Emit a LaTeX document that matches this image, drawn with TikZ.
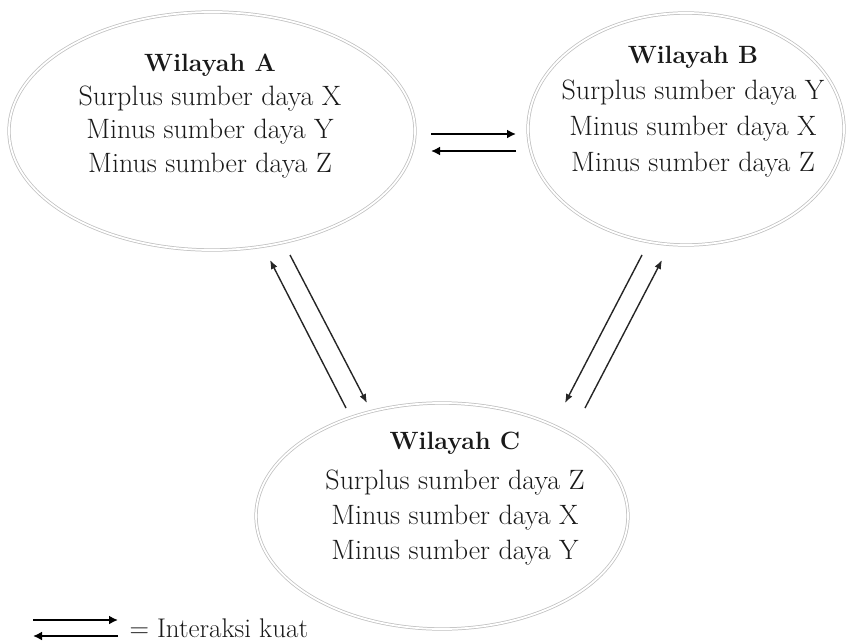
\documentclass[tikz,border=0pt]{standalone}
\usetikzlibrary{arrows.meta,shapes.geometric}
\begin{document}
\begin{tikzpicture}[x=1pt,y=-1pt,
  region/.style={ellipse, draw=gray!50, line width=0.75pt, double=white, double distance=1.8pt, inner sep=0pt},
  txt/.style={align=center, font=\fontsize{28}{33.5}\selectfont, text=black!90},
  harrow/.style={line width=2.6pt, -{Latex[length=9pt,width=9pt]}},
  darrow/.style={line width=1.4pt, black!85, -{Latex[length=9pt,width=7pt]}}
]
\newcommand{\hdtext}[1]{{\fontsize{25}{33.5}\selectfont\bfseries #1}}
\useasboundingbox (0,0) rectangle (846,642);
% regions
\node[region, minimum width=406pt, minimum height=238pt] (A) at (212,131) {};
\node[region, minimum width=316pt, minimum height=232pt] (B) at (686,129) {};
\node[region, minimum width=372pt, minimum height=226pt] (C) at (442,516) {};
% texts
\node[txt] (tA) at (210,116) {\hdtext{Wilayah A}\\Surplus sumber daya X\\Minus sumber daya Y\\Minus sumber daya Z};
\node[txt, font=\fontsize{28}{36}\selectfont] (tB) at (693,112) {\hdtext{Wilayah B}\\Surplus sumber daya Y\\Minus sumber daya X\\Minus sumber daya Z};
\node[txt, font=\fontsize{28}{35}\selectfont] (tC) at (455,499) {\hdtext{Wilayah C}\\[5pt]Surplus sumber daya Z\\Minus sumber daya X\\Minus sumber daya Y};
% arrow endpoints
\coordinate (ab1s) at (431,134); \coordinate (ab1e) at (516,134);
\coordinate (ab2s) at (516,151); \coordinate (ab2e) at (431,151);
\coordinate (ac1s) at (346,408); \coordinate (ac1e) at (270,260);
\coordinate (ac2s) at (290,255); \coordinate (ac2e) at (367,403);
\coordinate (bc1s) at (642,255); \coordinate (bc1e) at (565,403);
\coordinate (bc2s) at (585,408); \coordinate (bc2e) at (662,260);
\draw[harrow] (ab1s) -- (ab1e);
\draw[harrow] (ab2s) -- (ab2e);
\draw[darrow] (ac1s) -- (ac1e);
\draw[darrow] (ac2s) -- (ac2e);
\draw[darrow] (bc1s) -- (bc1e);
\draw[darrow] (bc2s) -- (bc2e);
% legend
\coordinate (l1s) at (33,620); \coordinate (l1e) at (118,620);
\coordinate (l2s) at (118,636); \coordinate (l2e) at (33,636);
\draw[harrow] (l1s) -- (l1e);
\draw[harrow] (l2s) -- (l2e);
\node[txt, anchor=west, font=\fontsize{27}{30}\selectfont] (leg) at (126,628) {= Interaksi kuat};
\end{tikzpicture}
\end{document}
